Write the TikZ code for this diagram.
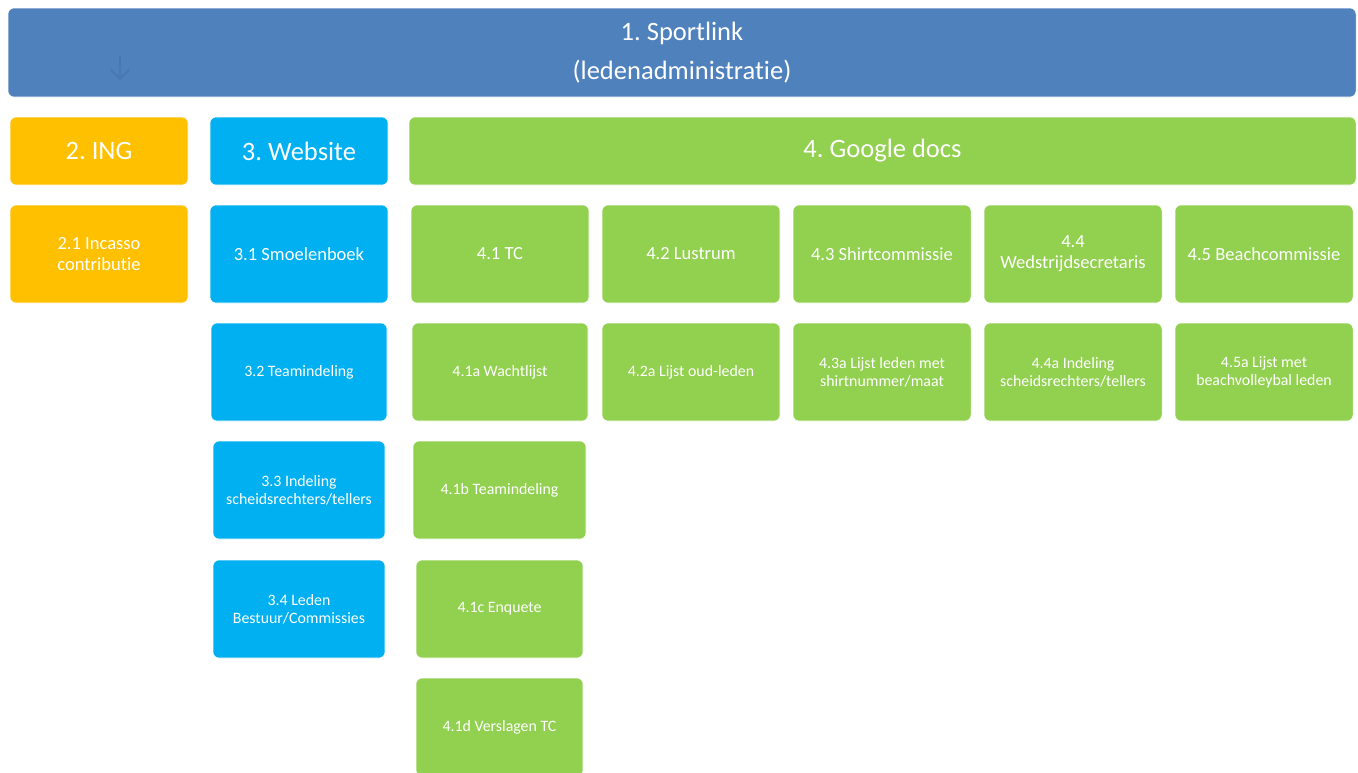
\documentclass[tikz,border=0pt]{standalone}
\usepackage{fontspec}
\setmainfont{Carlito}[Ligatures=NoCommon]
\usetikzlibrary{arrows.meta}
\definecolor{topblue}{HTML}{4F81BD}
\definecolor{arrowblue}{HTML}{4877B2}
\definecolor{ingorange}{HTML}{FFC000}
\definecolor{webcyan}{HTML}{00B0F0}
\definecolor{docgreen}{HTML}{92D050}
\tikzset{
  box/.style={rounded corners=4.5pt, draw=white, line width=0.4pt, text=white,
    align=center, inner sep=0pt},
  sz/.style 2 args={minimum width=#1*0.75pt, minimum height=#2*0.75pt},
  headtxt/.style={font=\fontsize{19.9}{29.8}\selectfont},
  midtxt/.style={font=\fontsize{13.9}{15.8}\selectfont},
  smalltxt/.style={font=\fontsize{11.9}{13.6}\selectfont},
  ing/.style={box, fill=ingorange},
  web/.style={box, fill=webcyan},
  doc/.style={box, fill=docgreen},
}
\frenchspacing
\begin{document}
\begin{tikzpicture}[x=0.75pt, y=-0.75pt]
\useasboundingbox (0,0) rectangle (1358,772);
\clip (0,0) rectangle (1358,772);
\fill[white] (0,0) rectangle (1358,772);

% top level
\node[box, fill=topblue, sz={1348}{89}, headtxt] (sportlink) at (682,52.5)
  {1. Sportlink\\(ledenadministratie)};
\coordinate (arrtop) at (120,56);
\coordinate (arrbot) at (120,80);
\draw[arrowblue, line width=1.3pt, -{Straight Barb[length=7pt, width=14pt]}] (arrtop) -- (arrbot);

% second level
\node[ing, sz={178}{68}, headtxt] (ing) at (99,151) {2. ING};
\node[web, sz={178}{68}, headtxt] (website) at (299,151) {3. Website};
\node[doc, sz={947}{68}, headtxt] (google) at (882.5,151) {4. Google docs};

% ING
\node[ing, sz={178}{98}, midtxt] (incasso) at (99,254) {2.1 Incasso\\contributie};

% Website
\node[web, sz={178}{98}, midtxt] (smoel) at (299,254) {3.1 Smoelenboek};
\node[web, sz={176}{98}, smalltxt] (teamw) at (299,372) {3.2 Teamindeling};
\node[web, sz={172}{98}, smalltxt] (indw) at (299,490) {3.3 Indeling\\scheidsrechters/tellers};
\node[web, sz={172}{98}, smalltxt] (leden) at (299,609) {3.4 Leden\\Bestuur/Commissies};

% Google docs: committees
\node[doc, sz={178}{98}, midtxt] (tc) at (500,254) {4.1 TC};
\node[doc, sz={178}{98}, midtxt] (lustrum) at (691,254) {4.2 Lustrum};
\node[doc, sz={178}{98}, midtxt] (shirt) at (882,254) {4.3 Shirtcommissie};
\node[doc, sz={178}{98}, midtxt] (wedstr) at (1073,254) {4.4\\Wedstrijdsecretaris};
\node[doc, sz={178}{98}, midtxt] (beach) at (1264,254) {4.5 Beachcommissie};

% Google docs: documents
\node[doc, sz={176}{98}, smalltxt] (wacht) at (500,372) {4.1a Wachtlijst};
\node[doc, sz={178}{98}, smalltxt] (oudleden) at (691,372) {4.2a Lijst oud-leden};
\node[doc, sz={178}{98}, smalltxt] (shirtlijst) at (882,372) {4.3a Lijst leden met\\shirtnummer/maat};
\node[doc, sz={178}{98}, smalltxt] (indg) at (1073,372) {4.4a Indeling\\scheidsrechters/tellers};
\node[doc, sz={178}{98}, smalltxt] (beachlijst) at (1264,372) {4.5a Lijst met\\beachvolleybal leden};
\node[doc, sz={173}{98}, smalltxt] (teamg) at (499.5,490) {4.1b Teamindeling};
\node[doc, sz={167}{98}, smalltxt] (enq) at (499.5,609) {4.1c Enquete};
\node[doc, sz={167}{98}, smalltxt] (versl) at (499.5,727) {4.1d Verslagen TC};
\end{tikzpicture}
\end{document}
